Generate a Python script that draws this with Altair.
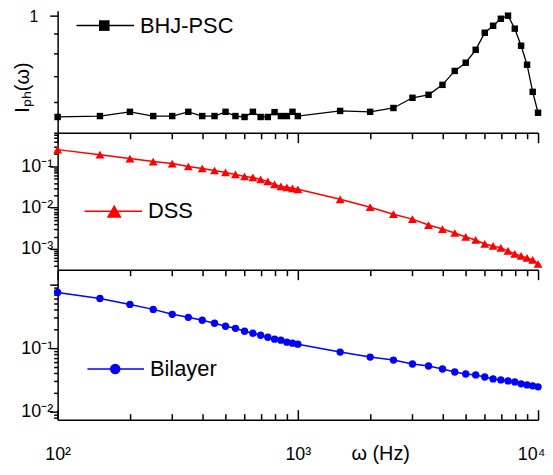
import altair as alt
import pandas as pd

# ---------------- data ----------------
freq = [100, 150, 200, 250, 300, 350, 400, 450, 500, 550, 600, 650, 700, 750, 800,
        850, 900, 950, 1000, 1500, 2000, 2500, 3000, 3500, 4000, 4500, 5000, 5500,
        6000, 6500, 7000, 7500, 8000, 8500, 9000, 9500, 10000]
bhj = [0.549, 0.552, 0.566, 0.552, 0.552, 0.566, 0.552, 0.552, 0.566, 0.552, 0.549,
       0.566, 0.549, 0.549, 0.565, 0.552, 0.552, 0.566, 0.552, 0.569, 0.566, 0.579,
       0.615, 0.626, 0.664, 0.721, 0.757, 0.817, 0.904, 0.942, 0.982, 1.0, 0.926,
       0.837, 0.748, 0.637, 0.563]
dss = [0.257, 0.194, 0.156, 0.132, 0.118, 0.100, 0.0895, 0.080, 0.0717, 0.0641,
       0.0574, 0.0543, 0.0486, 0.0435, 0.0368, 0.033, 0.0312, 0.0295, 0.0279,
       0.0160, 0.0103, 0.00697, 0.00528, 0.00379, 0.00303, 0.00243, 0.00195,
       0.00165, 0.00132, 0.00118, 0.00106, 0.000895, 0.000758, 0.000678,
       0.000607, 0.000543, 0.000435]
bilayer = [0.750, 0.604, 0.487, 0.407, 0.340, 0.305, 0.274, 0.246, 0.221, 0.205,
           0.1845, 0.1715, 0.1596, 0.1485, 0.1383, 0.1334, 0.124, 0.1198, 0.1155,
           0.0866, 0.0723, 0.0649, 0.0562, 0.0523, 0.0470, 0.0422, 0.0392, 0.0379,
           0.0352, 0.0328, 0.0316, 0.0305, 0.0294, 0.0274, 0.0264, 0.0255, 0.0246]
series_names = ["BHJ-PSC", "DSS", "Bilayer"]

x_ticks = [100, 200, 300, 400, 500, 600, 700, 800, 900,
           1000, 2000, 3000, 4000, 5000, 6000, 7000, 8000, 9000, 10000]
x_major = [100, 1000, 10000]
y1_ticks = [0.5, 0.6, 0.7, 0.8, 0.9, 1.0]
y2_ticks = [0.0004, 0.0005, 0.0006, 0.0007, 0.0008, 0.0009,
            0.001, 0.002, 0.003, 0.004, 0.005, 0.006, 0.007, 0.008, 0.009,
            0.01, 0.02, 0.03, 0.04, 0.05, 0.06, 0.07, 0.08, 0.09,
            0.1, 0.2, 0.3, 0.4, 0.5, 0.6]
y3_ticks = [0.008, 0.009, 0.01, 0.02, 0.03, 0.04, 0.05, 0.06, 0.07, 0.08, 0.09,
            0.1, 0.2, 0.3, 0.4, 0.5, 0.6, 0.7, 0.8, 0.9, 1.0]

# ---------------- layout ----------------
W = 484
H1, H2, H3 = 123, 138, 151
FONT = "Liberation Sans"
MAJOR = "abs(log(datum.value)/LN10 - round(log(datum.value)/LN10)) < 0.001"


def tsize(major, minor):
    return {"condition": {"test": MAJOR, "value": major}, "value": minor}


xscale = alt.Scale(type="log", domain=[100, 10000], nice=False)

df1 = pd.DataFrame({"w": freq, "v": bhj})
df2 = pd.DataFrame({"w": freq, "v": dss})
df3 = pd.DataFrame({"w": freq, "v": bilayer})
one = pd.DataFrame({"name": series_names})


def x_sep_axis():
    # bottom axis of panels 1 & 2: line + downward ticks into the next panel
    return alt.Axis(orient="bottom", values=x_ticks, labels=False, title=None,
                    tickSize=tsize(10, 6), grid=False)


def legend(idx, x0, x1, xs, y, shape, size, color):
    d = one.iloc[[idx]]
    line = alt.Chart(d).mark_rule(color=color, strokeWidth=1.5).encode(
        x=alt.value(x0), x2=alt.value(x1), y=alt.value(y))
    sym = alt.Chart(d).mark_point(shape=shape, filled=True, size=size, color=color,
                                  opacity=1).encode(x=alt.value(xs), y=alt.value(y))
    txt = alt.Chart(d).mark_text(align="left", baseline="middle", fontSize=22,
                                 font=FONT, color="black").encode(
        x=alt.value(x1 + 6), y=alt.value(y), text="name:N")
    return [line, sym, txt]


# ---- panel 1 ----
y1 = alt.Y("v:Q", scale=alt.Scale(type="log", domain=[0.5, 1.03], nice=False),
           axis=alt.Axis(values=y1_ticks, labelExpr="datum.value == 1 ? '1' : ''",
                         tickSize=tsize(8, 4), labelPadding=12, labelOffset=1,
                         labelFontSize=16,
                         title="Iₚₕ(ω)", titleX=-25, titleY=77, titleFontSize=20))
b1 = alt.Chart(df1).encode(x=alt.X("w:Q", scale=xscale, axis=x_sep_axis()), y=y1)
p1 = alt.layer(
    b1.mark_line(color="black", strokeWidth=1.3),
    b1.mark_point(shape="square", filled=True, size=42, color="black", opacity=1),
    *legend(0, 19, 77, 47, 15, "square", 114, "black"),
).properties(width=W, height=H1)

# ---- panel 2 ----
y2 = alt.Y("v:Q", scale=alt.Scale(type="log", domain=[0.000312, 0.659], nice=False),
           axis=alt.Axis(values=y2_ticks,
                         labelExpr="abs(datum.value-0.1)<1e-9 ? '10⁻¹' : abs(datum.value-0.01)<1e-10 ? '10⁻²' : abs(datum.value-0.001)<1e-11 ? '10⁻³' : ''",
                         tickSize=tsize(8, 4), labelPadding=-3, title=None))
b2 = alt.Chart(df2).encode(x=alt.X("w:Q", scale=xscale, axis=x_sep_axis()), y=y2)
p2 = alt.layer(
    b2.mark_line(color="#ff0000", strokeWidth=1.5),
    b2.mark_point(shape="triangle-up", filled=True, size=80, color="#ff0000", opacity=1),
    *legend(1, 27, 85, 57, 79, "triangle-up", 225, "#ff0000"),
).properties(width=W, height=H2)

# ---- panel 3 ----
y3 = alt.Y("v:Q", scale=alt.Scale(type="log", domain=[0.0075, 1.71], nice=False),
           axis=alt.Axis(values=y3_ticks,
                         labelExpr="abs(datum.value-0.1)<1e-9 ? '10⁻¹' : abs(datum.value-0.01)<1e-10 ? '10⁻²' : ''",
                         tickSize=tsize(8, 4), labelPadding=-3, title=None))
x3 = alt.X("w:Q", scale=xscale,
           axis=alt.Axis(orient="bottom", values=x_major, ticks=False, tickSize=0,
                         labelExpr="datum.value == 100 ? '10²' : datum.value == 1000 ? '10³' : '10⁴'",
                         labelOffset={"condition": {"test": "datum.value == 10000", "value": -7}, "value": 0},
                         labelPadding=26, title="ω (Hz)", titleX=325, titleY=24,
                         titleFontSize=20, titleFontWeight="normal"))
x3_in = alt.X("w:Q", scale=xscale,
              axis=alt.Axis(orient="top", offset=-H3, values=x_ticks, labels=False,
                            domain=False, title=None, tickSize=tsize(10, 6)))
b3 = alt.Chart(df3).encode(x=x3, y=y3)
inner = alt.Chart(df3).mark_point(opacity=0).encode(x=x3_in, y=y3)
p3 = alt.layer(
    alt.layer(b3.mark_line(color="#0000ff", strokeWidth=1.5),
              b3.mark_point(shape="circle", filled=True, size=55, color="#0000ff", opacity=1)),
    inner,
    *legend(2, 30, 87, 58, 100, "circle", 113, "#0000ff"),
).resolve_axis(x="independent").properties(width=W, height=H3)

chart = alt.vconcat(p1, p2, p3, spacing=0, bounds="flush").properties(
    padding={"left": 5, "top": -1, "right": 0, "bottom": 0}
).configure_view(stroke=None).configure_axis(
    labelFont=FONT, titleFont=FONT, labelFontSize=18, labelColor="black",
    titleColor="black", domainColor="black", tickColor="black", domainWidth=1.5,
    tickWidth=1.5, grid=False, labelOverlap=False, labelFlush=False,
    titleFontWeight="normal"
)

chart.save("out.html", embed_options={"renderer": "svg", "actions": False})
